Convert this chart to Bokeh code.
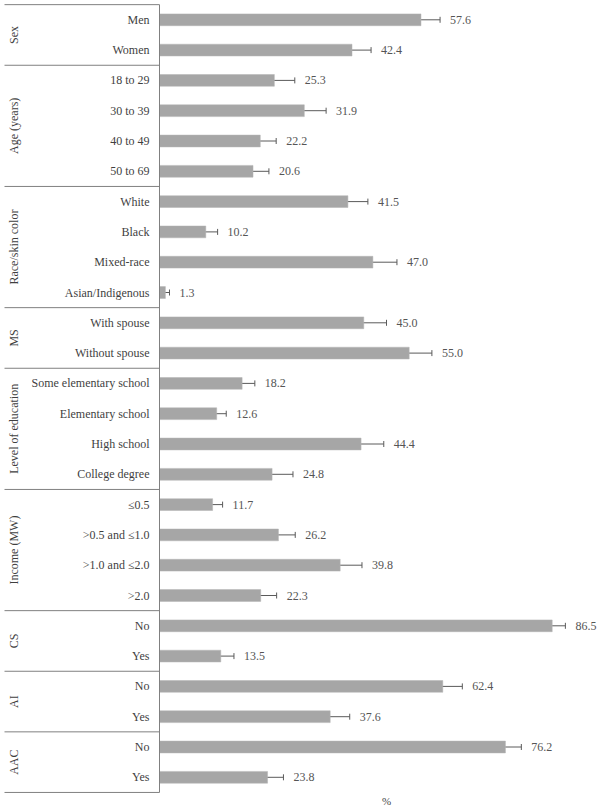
from bokeh.plotting import figure
from bokeh.models import ColumnDataSource, Range1d, Whisker, TeeHead
from bokeh.core.properties import value
from bokeh.embed import file_html
from bokeh.resources import INLINE
import math

# ---- data ----
categories = ["Men", "Women",
              "18 to 29", "30 to 39", "40 to 49", "50 to 69",
              "White", "Black", "Mixed-race", "Asian/Indigenous",
              "With spouse", "Without spouse",
              "Some elementary school", "Elementary school", "High school", "College degree",
              "\u22640.5", ">0.5 and \u22641.0", ">1.0 and \u22642.0", ">2.0",
              "No", "Yes",
              "No", "Yes",
              "No", "Yes"]
values = [57.6, 42.4,
          25.3, 31.9, 22.2, 20.6,
          41.5, 10.2, 47.0, 1.3,
          45.0, 55.0,
          18.2, 12.6, 44.4, 24.8,
          11.7, 26.2, 39.8, 22.3,
          86.5, 13.5,
          62.4, 37.6,
          76.2, 23.8]
errors = [4.2, 4.2,
          4.5, 4.8, 3.5, 3.5,
          4.4, 2.6, 5.3, 0.9,
          5.0, 5.0,
          2.8, 2.1, 5.0, 4.6,
          2.2, 3.7, 4.8, 3.5,
          2.9, 2.9,
          4.3, 4.3,
          3.5, 3.5]
group_names = ["Sex", "Age (years)", "Race/skin color", "MS", "Level of education",
               "Income (MW)", "CS", "AI", "AAC"]
group_sizes = [2, 4, 4, 2, 4, 4, 2, 2, 2]
x_label = "%"

FONT = "Liberation Serif"
TEXT_COLOR = "#3f3f3f"
LINE_COLOR = "#808080"

n = len(categories)
rows = list(range(n))

src = ColumnDataSource(dict(
    y=rows,
    cat=categories,
    val=values,
    lo=[v - e for v, e in zip(values, errors)],
    hi=[v + e for v, e in zip(values, errors)],
    lab=["%.1f" % v for v in values],
))

# pixel mapping: x=0 at px 159, 4.54 px per unit; row 0 at px 19.3, 30.3 px per row
W, H = 602, 807
x0px, xs = 159.0, 4.54
y0px, ys = 19.3, 30.3
x_start = -x0px / xs
x_end = (W - x0px) / xs
y_top = -y0px / ys
y_bot = (H - y0px) / ys

p = figure(width=W, height=H, output_backend="svg", toolbar_location=None,
           x_range=Range1d(x_start, x_end), y_range=Range1d(y_bot, y_top),
           x_axis_location=None, y_axis_location=None, min_border=0)
p.outline_line_color = None
p.xgrid.visible = False
p.ygrid.visible = False
p.background_fill_color = "white"

# bars
p.hbar(y="y", left=0, right="val", height=0.39, source=src,
       fill_color="#a6a6a6", line_color="#b5b5b5", line_width=0.5)

# error bars
wh = Whisker(base="y", lower="lo", upper="hi", dimension="width", source=src,
             line_color="#5a5a5a", line_width=1,
             lower_head=TeeHead(size=6, line_color="#5a5a5a", line_width=1),
             upper_head=TeeHead(size=6, line_color="#5a5a5a", line_width=1))
p.add_layout(wh)

# value labels
p.text(x="hi", y="y", text="lab", source=src, x_offset=10,
       text_font=value(FONT), text_font_size="12px", text_color="#555555",
       text_baseline="middle", text_align="left")

# category labels
p.text(x=0, y="y", text="cat", source=src, x_offset=-10,
       text_font=value(FONT), text_font_size="12px", text_color=TEXT_COLOR,
       text_baseline="middle", text_align="right")

# group separators and group labels
left_x = (4 - x0px) / xs
bounds = [-0.5]
gy = []
start = 0
for s in group_sizes:
    gy.append(start + (s - 1) / 2)
    start += s
    bounds.append(start - 0.5)

p.segment(x0=[left_x] * len(bounds), x1=[0] * len(bounds), y0=bounds, y1=bounds,
          line_color=LINE_COLOR, line_width=1)
p.segment(x0=[0], x1=[0], y0=[bounds[0]], y1=[bounds[-1]],
          line_color=LINE_COLOR, line_width=1)

gx = (13.5 - x0px) / xs
p.text(x=[gx] * len(group_names), y=gy, text=group_names, angle=math.pi / 2,
       text_font=value(FONT), text_font_size="12px", text_color=TEXT_COLOR,
       text_baseline="middle", text_align="center")

# x-axis title
p.text(x=[50], y=[(800 - y0px) / ys], text=[x_label],
       text_font=value(FONT), text_font_size="11px", text_color=TEXT_COLOR,
       text_baseline="middle", text_align="center")

open("out.html", "w").write(file_html(p, INLINE))
